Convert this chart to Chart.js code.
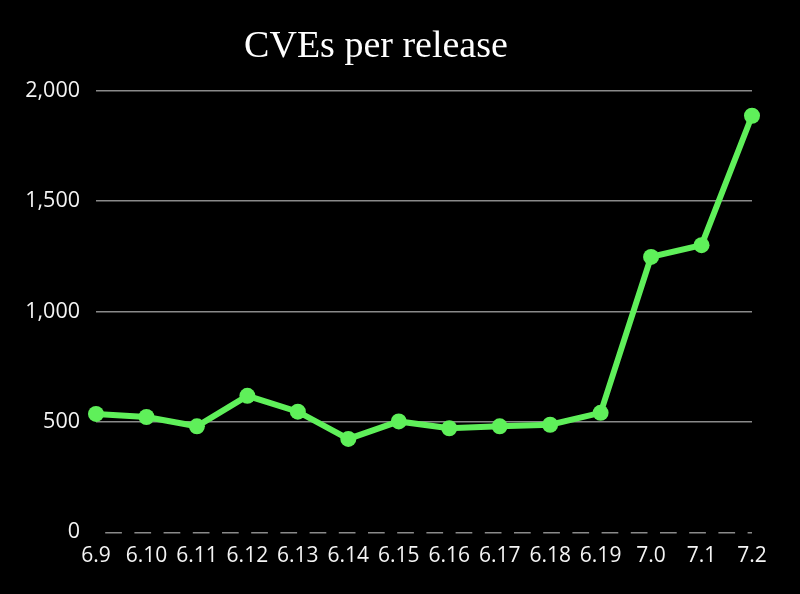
<!DOCTYPE html>
<html>
<head>
<meta charset="utf-8">
<script src="https://cdn.jsdelivr.net/npm/chart.js@4/dist/chart.umd.min.js"></script>
<style>
  html, body { margin: 0; padding: 0; background: #000; }
  #wrap { width: 800px; height: 594px; position: relative; }
</style>
</head>
<body>
<div id="wrap"><canvas id="c"></canvas></div>
<script>
const titleText = 'CVEs per release';
const releases = ['6.9','6.10','6.11','6.12','6.13','6.14','6.15','6.16','6.17','6.18','6.19','7.0','7.1','7.2'];
const cveCounts = [536, 522, 480, 618, 546, 423, 502, 471, 480, 487, 541, 1247, 1300, 1886];
const yTickMin = 0;
const yTickMax = 2000;
const yTickStep = 500;

const lineGreen = '#5ff05a';
const gridGray = '#8a8a8a';

const bgPlugin = {
  id: 'bg',
  beforeDraw(chart) {
    const { ctx, width, height } = chart;
    ctx.save();
    ctx.fillStyle = '#000';
    ctx.fillRect(0, 0, width, height);
    ctx.restore();
  }
};

new Chart(document.getElementById('c'), {
  type: 'line',
  data: {
    labels: releases,
    datasets: [{
      data: cveCounts,
      borderColor: lineGreen,
      backgroundColor: lineGreen,
      borderWidth: 6,
      pointRadius: 8,
      pointHoverRadius: 8,
      pointBackgroundColor: lineGreen,
      pointBorderColor: lineGreen,
      pointBorderWidth: 0,
      tension: 0,
      fill: false
    }]
  },
  options: {
    responsive: true,
    maintainAspectRatio: false,
    animation: false,
    locale: 'en-US',
    layout: { padding: { left: 0, right: 48, top: 0, bottom: 14.5 } },
    plugins: {
      legend: { display: false },
      tooltip: { enabled: false },
      title: {
        display: true,
        text: titleText,
        color: '#ffffff',
        font: { family: '"Liberation Serif", serif', size: 38, weight: 'normal' },
        padding: { top: 24, bottom: 21 }
      }
    },
    scales: {
      x: {
        offset: false,
        grid: { display: false, drawTicks: false },
        border: { display: false },
        ticks: {
          color: '#f4f4f4',
          padding: 11,
          maxRotation: 0,
          autoSkip: false,
          font: { family: '"Open Sans", sans-serif', size: 21 }
        }
      },
      y: {
        min: yTickMin,
        max: yTickMax,
        afterFit(scale) { scale.width = 96; },
        grid: {
          drawTicks: false,
          lineWidth: 1.5,
          color: (ctx) => (ctx.tick && ctx.tick.value === 0) ? 'rgba(0,0,0,0)' : gridGray
        },
        border: { display: false },
        ticks: {
          stepSize: yTickStep,
          color: '#f4f4f4',
          padding: 16,
          font: { family: '"Open Sans", sans-serif', size: 21.5 }
        }
      },
      y2: {
        position: 'right',
        min: yTickMin,
        max: yTickMax,
        afterFit(scale) { scale.width = 0; },
        grid: {
          drawTicks: false,
          lineWidth: 1.5,
          color: (ctx) => (ctx.tick && ctx.tick.value === 0) ? gridGray : 'rgba(0,0,0,0)'
        },
        border: { display: false, dash: [16.7, 12.5], dashOffset: 20 },
        ticks: { display: false, stepSize: yTickStep }
      }
    }
  },
  plugins: [bgPlugin]
});
</script>
</body>
</html>
